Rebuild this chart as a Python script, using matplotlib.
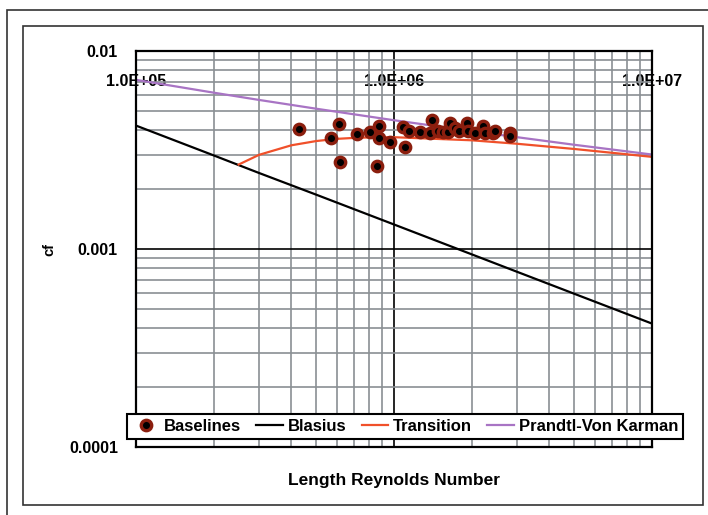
import matplotlib
matplotlib.use('Agg')
import matplotlib.pyplot as plt
from matplotlib.patches import Rectangle
from matplotlib.ticker import FixedLocator, FuncFormatter, NullFormatter

plt.rcParams['font.family'] = ['Liberation Sans', 'DejaVu Sans']
plt.rcParams['font.weight'] = 'bold'

# Blasius laminar line
re_blasius = [1e5, 2e5, 3e5, 5e5, 1e6, 2e6, 3e6, 5e6, 1e7]
cf_blasius = [0.0042, 0.00297, 0.00242, 0.00188, 0.00133, 0.00094, 0.000767, 0.000594, 0.00042]

# Prandtl-Von Karman turbulent line
re_pvk = [1e5, 2e5, 3e5, 5e5, 1e6, 2e6, 3e6, 5e6, 1e7]
cf_pvk = [0.00715, 0.00616, 0.00566, 0.00511, 0.00447, 0.00394, 0.00367, 0.00336, 0.00300]

# transition line
re_trans = [2.5e5, 3e5, 4e5, 5e5, 6e5, 7e5, 8e5, 1e6, 2e6, 3e6, 5e6, 1e7]
cf_trans = [0.00267, 0.00299, 0.00334, 0.00351, 0.00360, 0.00364, 0.00366, 0.00367,
            0.00354, 0.00340, 0.00320, 0.00292]

# baseline measurements
re_base = [4.30e5, 5.68e5, 6.14e5, 6.18e5, 7.17e5, 8.07e5, 8.75e5, 8.75e5, 8.62e5, 9.65e5,
           1.08e6, 1.10e6, 1.14e6, 1.26e6, 1.38e6, 1.40e6, 1.48e6, 1.55e6, 1.62e6, 1.65e6,
           1.72e6, 1.78e6, 1.91e6, 1.94e6, 2.06e6, 2.22e6, 2.25e6, 2.43e6, 2.46e6, 2.82e6, 2.82e6]
cf_base = [0.00402, 0.00365, 0.00428, 0.00274, 0.00381, 0.00392, 0.00420, 0.00362, 0.00264, 0.00348,
           0.00412, 0.00326, 0.00394, 0.00390, 0.00385, 0.00450, 0.00393, 0.00390, 0.00390, 0.00433,
           0.00408, 0.00393, 0.00433, 0.00393, 0.00385, 0.00417, 0.00385, 0.00385, 0.00393, 0.00385, 0.00371]

x_ticks = [1e5, 1e6, 1e7]
x_labels = ['1.0E+05', '1.0E+06', '1.0E+07']
y_ticks = [1e-4, 1e-3, 1e-2]
y_labels = ['0.0001', '0.001', '0.01']

fig = plt.figure(figsize=(7.08, 5.15), dpi=100)
W, H = 708, 515

# outer frames
fig.add_artist(Rectangle((7 / W, -0.2), 1.0, 1.2 - 10 / H, transform=fig.transFigure,
                         fill=False, ec='#333333', lw=1.2))
fig.add_artist(Rectangle((23 / W, 1 - 505 / H), 680 / W, 479 / H, transform=fig.transFigure,
                         fill=False, ec='#333333', lw=1.2))

ax = fig.add_axes([136 / W, 1 - 447 / H, 516 / W, 396 / H])
ax.set_xscale('log')
ax.set_yscale('log')
ax.set_xlim(1e5, 1e7)
ax.set_ylim(1e-4, 1e-2)

ax.grid(True, which='minor', color='#8a8f94', lw=1.2)
ax.grid(True, which='major', color='black', lw=1.2)
ax.set_axisbelow(True)

ax.plot(re_base, cf_base, ls='none', marker='o', ms=7.5, mfc='black', mec='#8B1E0E', mew=2.4,
        label='Baselines', zorder=5)
ax.plot(re_blasius, cf_blasius, color='black', lw=1.6, label='Blasius')
ax.plot(re_trans, cf_trans, color='#F0502A', lw=1.6, label='Transition')
ax.plot(re_pvk, cf_pvk, color='#A874C4', lw=1.6, label='Prandtl-Von Karman')

ax.xaxis.set_major_locator(FixedLocator(x_ticks))
ax.xaxis.set_major_formatter(FuncFormatter(lambda v, p: x_labels[x_ticks.index(v)] if v in x_ticks else ''))
ax.xaxis.set_minor_formatter(NullFormatter())
ax.yaxis.set_major_locator(FixedLocator(y_ticks))
ax.yaxis.set_major_formatter(FuncFormatter(lambda v, p: y_labels[y_ticks.index(v)] if v in y_ticks else ''))
ax.yaxis.set_minor_formatter(NullFormatter())

ax.tick_params(axis='x', which='both', length=0, top=False, bottom=False,
               labeltop=True, labelbottom=False, pad=-27, labelsize=11.5)
ax.tick_params(axis='y', which='both', length=0, pad=13, labelsize=11.5)

for s in ax.spines.values():
    s.set_color('black')
    s.set_linewidth(1.6)

fig.text(49 / W, 1 - 250 / H, 'cf', rotation=90, ha='center', va='center', fontsize=10.5, fontweight='bold')
fig.text(394 / W, 1 - 480 / H, 'Length Reynolds Number', ha='center', va='center', fontsize=12.5,
         fontweight='bold')

leg = ax.legend(loc='center', bbox_to_anchor=(0.522, 0.053), ncol=4, fontsize=12,
                frameon=True, fancybox=False, handlelength=1.6, handletextpad=0.3,
                columnspacing=0.9, borderpad=0.3, borderaxespad=0)
leg.get_frame().set_edgecolor('black')
leg.get_frame().set_linewidth(1.5)
leg.get_frame().set_alpha(1)

fig.savefig('out.png', dpi=100)
